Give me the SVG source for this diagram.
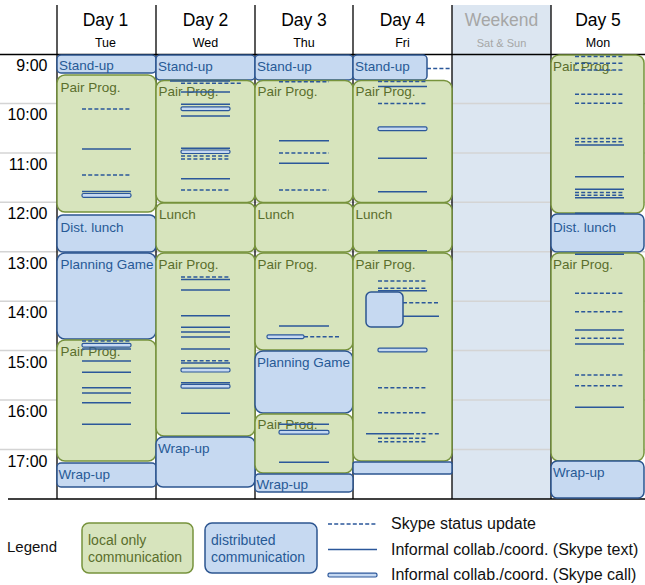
<svg xmlns="http://www.w3.org/2000/svg" width="645" height="585" viewBox="0 0 645 585">
<style>
.g{fill:#d7e4bd;stroke:#77933c;stroke-width:1.5}
.b{fill:#c6d9f1;stroke:#2c5590;stroke-width:1.5}
.lbl{font-family:"Liberation Sans",Arial,sans-serif;font-size:13.5px}
.gt{fill:#5a6e2c}
.bt{fill:#275a96}
.s{stroke:#2b579a;stroke-width:1.5;fill:none}
.d{stroke-dasharray:4 2.2}
.c{fill:#c6d9f1;stroke:#2b579a;stroke-width:1.2}
.row{stroke:#d4d4d4;stroke-width:1.5}
.col{stroke:#000;stroke-width:1.3}
.hd{font-family:"Liberation Sans",Arial,sans-serif;font-size:17.5px;text-anchor:middle;fill:#000}
.sd{font-family:"Liberation Sans",Arial,sans-serif;font-size:12.5px;text-anchor:middle;fill:#000}
.tm{font-family:"Liberation Sans",Arial,sans-serif;font-size:16px;text-anchor:end;fill:#000}
.lg{font-family:"Liberation Sans",Arial,sans-serif;font-size:16px;fill:#111}
.lb{font-family:"Liberation Sans",Arial,sans-serif;font-size:14px}
</style>
<rect x="0" y="0" width="645" height="585" fill="#fff"/>
<g id="grid">
<rect x="452" y="5" width="99" height="494" fill="#dce6f1"/>
<line class="row" x1="0" y1="103.4" x2="645" y2="103.4"/>
<line class="row" x1="0" y1="152.9" x2="645" y2="152.9"/>
<line class="row" x1="0" y1="202.3" x2="645" y2="202.3"/>
<line class="row" x1="0" y1="251.8" x2="645" y2="251.8"/>
<line class="row" x1="0" y1="301.2" x2="645" y2="301.2"/>
<line class="row" x1="0" y1="350.6" x2="645" y2="350.6"/>
<line class="row" x1="0" y1="400.1" x2="645" y2="400.1"/>
<line class="row" x1="0" y1="449.5" x2="645" y2="449.5"/>
<line class="col" x1="57" y1="5" x2="57" y2="499"/>
<line class="col" x1="156" y1="5" x2="156" y2="499"/>
<line class="col" x1="255" y1="5" x2="255" y2="499"/>
<line class="col" x1="353" y1="5" x2="353" y2="499"/>
<line class="col" x1="452" y1="5" x2="452" y2="499"/>
<line class="col" x1="551" y1="5" x2="551" y2="499"/>
<line x1="0" y1="54.5" x2="645" y2="54.5" stroke="#000" stroke-width="1.5"/>
<line x1="8" y1="499" x2="645" y2="499" stroke="#000" stroke-width="1.5"/>
</g>
<g id="header">
<text class="hd" x="105.5" y="26">Day 1</text><text class="sd" x="105.5" y="46.5">Tue</text>
<text class="hd" x="205.5" y="26">Day 2</text><text class="sd" x="205.5" y="46.5">Wed</text>
<text class="hd" x="304" y="26">Day 3</text><text class="sd" x="304" y="46.5">Thu</text>
<text class="hd" x="402.5" y="26">Day 4</text><text class="sd" x="402.5" y="46.5">Fri</text>
<text class="hd" x="501.5" y="26" style="fill:#a6a6a6">Weekend</text><text class="sd" x="501.5" y="46.5" style="fill:#a6a6a6;font-size:11px">Sat &amp; Sun</text>
<text class="hd" x="598" y="26">Day 5</text><text class="sd" x="598" y="46.5">Mon</text>
</g>
<g id="times">
<text class="tm" x="47.5" y="71">9:00</text>
<text class="tm" x="47.5" y="120.4">10:00</text>
<text class="tm" x="47.5" y="169.9">11:00</text>
<text class="tm" x="47.5" y="219.3">12:00</text>
<text class="tm" x="47.5" y="268.8">13:00</text>
<text class="tm" x="47.5" y="318.2">14:00</text>
<text class="tm" x="47.5" y="367.6">15:00</text>
<text class="tm" x="47.5" y="417.1">16:00</text>
<text class="tm" x="47.5" y="466.5">17:00</text>
</g>
<g id="day1">
<g id="d1-standup"><rect class="b" x="57" y="55" width="99" height="18" rx="4"/><text class="lbl bt" x="59" y="69.5">Stand-up</text></g>
<g id="d1-pair1"><rect class="g" x="57" y="75" width="99" height="137" rx="8"/><text class="lbl gt" x="60.5" y="91.5">Pair Prog.</text></g>
<g id="d1-lunch"><rect class="b" x="57" y="215" width="99" height="37" rx="6"/><text class="lbl bt" x="60.5" y="231.5">Dist. lunch</text></g>
<g id="d1-planning"><rect class="b" x="57" y="253" width="99" height="86" rx="8"/><text class="lbl bt" x="60.5" y="268.5">Planning Game</text></g>
<g id="d1-pair2"><rect class="g" x="57" y="340" width="99" height="121" rx="8"/><text class="lbl gt" x="60.5" y="355.5">Pair Prog.</text></g>
<g id="d1-wrapup"><rect class="b" x="57" y="463" width="99" height="24" rx="4"/><text class="lbl bt" x="58.5" y="478.5">Wrap-up</text></g>
</g>
<g id="day2">
<g id="d2-standup"><rect class="b" x="156" y="55" width="99" height="25" rx="4"/><text class="lbl bt" x="158" y="70.5">Stand-up</text></g>
<g id="d2-pair1"><rect class="g" x="156" y="80.5" width="99" height="122" rx="8"/><text class="lbl gt" x="158.5" y="95.5">Pair Prog.</text></g>
<g id="d2-lunch"><rect class="g" x="156" y="203" width="99" height="49" rx="7"/><text class="lbl gt" x="159" y="219">Lunch</text></g>
<g id="d2-pair2"><rect class="g" x="156" y="253" width="99" height="183" rx="8"/><text class="lbl gt" x="158.5" y="268.5">Pair Prog.</text></g>
<g id="d2-wrapup"><rect class="b" x="156" y="437" width="99" height="50" rx="7"/><text class="lbl bt" x="158" y="453">Wrap-up</text></g>
</g>
<g id="day3">
<g id="d3-standup"><rect class="b" x="255" y="55" width="98" height="25" rx="4"/><text class="lbl bt" x="257" y="70.5">Stand-up</text></g>
<g id="d3-pair1"><rect class="g" x="255" y="80.5" width="98" height="122" rx="8"/><text class="lbl gt" x="257.5" y="95.5">Pair Prog.</text></g>
<g id="d3-lunch"><rect class="g" x="255" y="203" width="98" height="49" rx="7"/><text class="lbl gt" x="257.5" y="219">Lunch</text></g>
<g id="d3-pair2"><rect class="g" x="255" y="253" width="98" height="97" rx="8"/><text class="lbl gt" x="257.5" y="268.5">Pair Prog.</text></g>
<g id="d3-planning"><rect class="b" x="255" y="351" width="98" height="62" rx="8"/><text class="lbl bt" x="257" y="367">Planning Game</text></g>
<g id="d3-pair3"><rect class="g" x="255" y="414" width="98" height="59" rx="8"/><text class="lbl gt" x="257.5" y="429">Pair Prog.</text></g>
<g id="d3-wrapup"><rect class="b" x="255" y="474" width="98" height="18" rx="4"/><text class="lbl bt" x="256.5" y="489">Wrap-up</text></g>
</g>
<g id="day4">
<g id="d4-standup"><rect class="b" x="353" y="55" width="74" height="25" rx="4"/><text class="lbl bt" x="355" y="70.5">Stand-up</text></g>
<g id="d4-pair1"><rect class="g" x="353" y="80.5" width="99" height="122" rx="8"/><text class="lbl gt" x="355.5" y="95.5">Pair Prog.</text></g>
<g id="d4-lunch"><rect class="g" x="353" y="203" width="99" height="49" rx="7"/><text class="lbl gt" x="355.5" y="219">Lunch</text></g>
<g id="d4-pair2"><rect class="g" x="353" y="253" width="99" height="208" rx="8"/><text class="lbl gt" x="355.5" y="268.5">Pair Prog.</text></g>
<g id="d4-call"><rect class="b" x="366" y="292" width="37" height="35" rx="5"/></g>
<g id="d4-wrapup"><rect class="b" x="353" y="462" width="99" height="12" rx="2"/></g>
</g>
<g id="day5">
<g id="d5-pair1"><rect class="g" x="551" y="55" width="93" height="158" rx="8"/><text class="lbl gt" x="553" y="70.5">Pair Prog.</text></g>
<g id="d5-lunch"><rect class="b" x="551" y="214" width="93" height="38" rx="6"/><text class="lbl bt" x="553" y="231.5">Dist. lunch</text></g>
<g id="d5-pair2"><rect class="g" x="551" y="253" width="93" height="208" rx="8"/><text class="lbl gt" x="553" y="268.5">Pair Prog.</text></g>
<g id="d5-wrapup"><rect class="b" x="551" y="461" width="93" height="37" rx="6"/><text class="lbl bt" x="553" y="477">Wrap-up</text></g>
</g>
<g id="marks">
<!-- Day 1 -->
<line class="s d" x1="82" y1="109" x2="131" y2="109"/>
<line class="s" x1="82" y1="149" x2="131" y2="149"/>
<line class="s d" x1="82" y1="175" x2="131" y2="175"/>
<line class="s" x1="82" y1="191.5" x2="131" y2="191.5"/>
<rect class="c" x="82" y="193.5" width="49" height="3.8" rx="1.5"/>
<line class="s d" x1="82" y1="341" x2="131" y2="341"/>
<rect class="c" x="82" y="343.3" width="49" height="3.8" rx="1.5"/>
<line class="s" x1="82" y1="349" x2="131" y2="349"/>
<line class="s" x1="82" y1="361" x2="131" y2="361"/>
<line class="s" x1="82" y1="372.3" x2="131" y2="372.3"/>
<line class="s" x1="82" y1="387.7" x2="131" y2="387.7"/>
<line class="s" x1="82" y1="393" x2="131" y2="393"/>
<line class="s" x1="82" y1="402.7" x2="131" y2="402.7"/>
<line class="s" x1="82" y1="424.3" x2="131" y2="424.3"/>
<!-- Day 2 -->
<line class="s" x1="170" y1="81" x2="230" y2="81"/>
<line class="s d" x1="181" y1="83.3" x2="241" y2="83.3"/>
<line class="s" x1="181" y1="92" x2="230" y2="92"/>
<line class="s" x1="181" y1="104.3" x2="230" y2="104.3"/>
<rect class="c" x="181" y="106.8" width="49" height="3.8" rx="1.5"/>
<line class="s" x1="181" y1="116" x2="230" y2="116"/>
<line class="s" x1="181" y1="148.3" x2="230" y2="148.3"/>
<rect class="c" x="181" y="150" width="49" height="3.5" rx="1.5"/>
<line class="s d" x1="181" y1="156" x2="230" y2="156"/>
<line class="s d" x1="181" y1="159" x2="230" y2="159"/>
<line class="s" x1="181" y1="178.7" x2="230" y2="178.7"/>
<line class="s d" x1="181" y1="190" x2="230" y2="190"/>
<line class="s d" x1="181" y1="277" x2="230" y2="277"/>
<line class="s" x1="181" y1="279.5" x2="230" y2="279.5"/>
<line class="s" x1="181" y1="290" x2="230" y2="290"/>
<line class="s" x1="181" y1="315.7" x2="230" y2="315.7"/>
<line class="s" x1="181" y1="327.3" x2="230" y2="327.3"/>
<line class="s" x1="181" y1="332" x2="230" y2="332"/>
<line class="s" x1="181" y1="337" x2="230" y2="337"/>
<line class="s" x1="181" y1="349" x2="230" y2="349"/>
<line class="s d" x1="181" y1="360.7" x2="230" y2="360.7"/>
<line class="s" x1="181" y1="363" x2="230" y2="363"/>
<rect class="c" x="181" y="368.2" width="49" height="3.8" rx="1.5"/>
<line class="s" x1="181" y1="382.7" x2="230" y2="382.7"/>
<rect class="c" x="181" y="384.4" width="49" height="3.8" rx="1.5"/>
<line class="s" x1="181" y1="413.3" x2="230" y2="413.3"/>
<!-- Day 3 -->
<line class="s d" x1="279" y1="81.7" x2="329" y2="81.7"/>
<line class="s" x1="279" y1="140.7" x2="329" y2="140.7"/>
<line class="s d" x1="279" y1="153" x2="329" y2="153"/>
<line class="s" x1="279" y1="163.3" x2="329" y2="163.3"/>
<line class="s d" x1="279" y1="190" x2="329" y2="190"/>
<line class="s" x1="279" y1="326" x2="329" y2="326"/>
<line class="s d" x1="304" y1="336.7" x2="340" y2="336.7"/>
<rect class="c" x="267" y="334.8" width="37" height="3.8" rx="1.5"/>
<line class="s" x1="279" y1="424.3" x2="329" y2="424.3"/>
<rect class="c" x="279" y="430.4" width="50" height="3.8" rx="1.5"/>
<line class="s" x1="279" y1="462.3" x2="329" y2="462.3"/>
<!-- Day 4 -->
<line class="s d" x1="427" y1="68.5" x2="452" y2="68.5"/>
<line class="s d" x1="378" y1="81.5" x2="427" y2="81.5"/>
<line class="s" x1="378" y1="86.5" x2="427" y2="86.5"/>
<line class="s d" x1="378" y1="103.5" x2="427" y2="103.5"/>
<rect class="c" x="378" y="126.8" width="49" height="3.8" rx="1.5"/>
<line class="s" x1="378" y1="158.3" x2="427" y2="158.3"/>
<line class="s" x1="378" y1="191.7" x2="427" y2="191.7"/>
<line class="s" x1="378" y1="250.7" x2="427" y2="250.7"/>
<line class="s d" x1="378" y1="281" x2="427" y2="281"/>
<line class="s d" x1="378" y1="288.3" x2="427" y2="288.3"/>
<line class="s" x1="378" y1="290.7" x2="427" y2="290.7"/>
<line class="s d" x1="403" y1="302.7" x2="439" y2="302.7"/>
<line class="s" x1="403" y1="316.3" x2="439" y2="316.3"/>
<rect class="c" x="378" y="348.1" width="49" height="3.8" rx="1.5"/>
<line class="s d" x1="378" y1="387.7" x2="427" y2="387.7"/>
<line class="s d" x1="378" y1="412.7" x2="427" y2="412.7"/>
<line class="s" x1="366" y1="433.7" x2="410" y2="433.7"/>
<line class="s d" x1="410" y1="433.7" x2="439" y2="433.7"/>
<line class="s d" x1="378" y1="438.3" x2="427" y2="438.3"/>
<line class="s d" x1="378" y1="441.7" x2="427" y2="441.7"/>
<!-- Day 5 -->
<line class="s d" x1="575" y1="56.5" x2="624" y2="56.5"/>
<line class="s d" x1="575" y1="63.3" x2="624" y2="63.3"/>
<line class="s d" x1="575" y1="70" x2="624" y2="70"/>
<line class="s d" x1="575" y1="94.3" x2="624" y2="94.3"/>
<line class="s d" x1="575" y1="103.3" x2="624" y2="103.3"/>
<line class="s d" x1="575" y1="138.5" x2="624" y2="138.5"/>
<line class="s d" x1="575" y1="141.8" x2="624" y2="141.8"/>
<line class="s" x1="575" y1="145" x2="624" y2="145"/>
<line class="s" x1="575" y1="176.7" x2="624" y2="176.7"/>
<line class="s" x1="575" y1="189.3" x2="624" y2="189.3"/>
<line class="s d" x1="575" y1="192.5" x2="624" y2="192.5"/>
<line class="s d" x1="575" y1="195.3" x2="624" y2="195.3"/>
<line class="s" x1="575" y1="197.8" x2="624" y2="197.8"/>
<line class="s" x1="575" y1="213.3" x2="624" y2="213.3"/>
<line class="s" x1="575" y1="254.3" x2="624" y2="254.3"/>
<line class="s d" x1="575" y1="293.3" x2="624" y2="293.3"/>
<line class="s d" x1="575" y1="311.7" x2="624" y2="311.7"/>
<line class="s" x1="575" y1="330" x2="624" y2="330"/>
<line class="s d" x1="575" y1="338.3" x2="624" y2="338.3"/>
<line class="s" x1="575" y1="344" x2="624" y2="344"/>
<line class="s d" x1="575" y1="375" x2="624" y2="375"/>
<line class="s d" x1="575" y1="385.7" x2="624" y2="385.7"/>
<line class="s" x1="575" y1="407.3" x2="624" y2="407.3"/>
</g>
<g id="legend">
<text class="lg" x="7" y="552" style="font-size:15px">Legend</text>
<g id="legend-local"><rect class="g" x="82" y="523" width="111" height="50" rx="7"/><text class="lb gt" x="88" y="545">local only</text><text class="lb gt" x="88" y="562">communication</text></g>
<g id="legend-dist"><rect class="b" x="205" y="523" width="112" height="50" rx="7"/><text class="lb bt" x="211" y="545">distributed</text><text class="lb bt" x="211" y="562">communication</text></g>
<line class="s d" x1="328" y1="524" x2="377" y2="524"/>
<line class="s" x1="328" y1="549.5" x2="377" y2="549.5"/>
<rect class="c" x="328" y="573.2" width="49" height="3.8" rx="1.5"/>
<text class="lg" x="391" y="528.5">Skype status update</text>
<text class="lg" x="391" y="554.5">Informal collab./coord. (Skype text)</text>
<text class="lg" x="391" y="580">Informal collab./coord. (Skype call)</text>
</g>
</svg>
